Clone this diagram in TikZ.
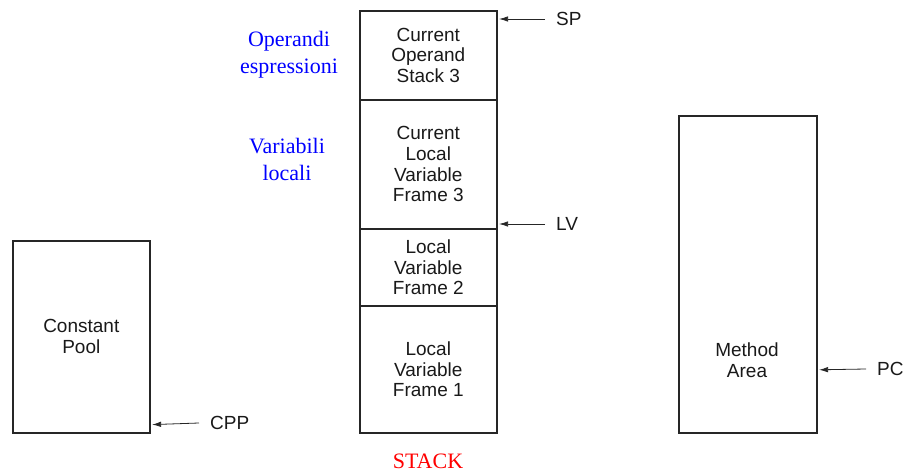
\documentclass[tikz,border=0pt]{standalone}
\usepackage{fontspec}
\setmainfont{Liberation Sans}
\newfontfamily\notefont{Liberation Serif}
\usetikzlibrary{arrows.meta}
\newcommand\boxfont{\fontsize{19}{20.7}\selectfont}
\newcommand\notesize{\notefont\fontsize{22}{27}\selectfont}
\begin{document}
\begin{tikzpicture}[x=1pt,y=-1pt,
  memblock/.style={draw=black!85, line width=1.6pt, inner sep=0pt, anchor=north west,
    align=center, font=\boxfont, text=black!90},
  ptr/.style={-{Latex[length=9pt,width=5.5pt]}, line width=0.8pt, draw=black!85},
  lbl/.style={anchor=west, inner xsep=11pt, inner ysep=0pt, font=\boxfont, text=black!90},
  note/.style={font=\notesize, text=blue, align=center, inner sep=0pt}]
\useasboundingbox (0,0) rectangle (904,473);
% stack
\node[memblock, minimum width=137pt, minimum height=89pt]  (s1) at (359,10)  {Current\\Operand\\Stack 3};
\node[memblock, minimum width=137pt, minimum height=129pt] (s2) at (359,99)  {Current\\Local\\Variable\\Frame 3};
\node[memblock, minimum width=137pt, minimum height=77pt]  (s3) at (359,228) {Local\\Variable\\Frame 2};
\node[memblock, minimum width=137pt, minimum height=127pt] (s4) at (359,305) {Local\\Variable\\Frame 1};
% constant pool
\node[memblock, minimum width=137pt, minimum height=192pt] (cp) at (12,240) {Constant\\Pool};
% method area
\node[memblock, minimum width=138pt, minimum height=317pt] (ma) at (678,115) {};
\node[align=center, font=\boxfont, text=black!90, inner sep=0pt] (mat) at (747,360) {Method\\Area};
% notes
\node[note] (op) at (289,55) {Operandi\\espressioni};
\node[note] (vl) at (287,159) {Variabili\\locali};
\node[note, text=red] (st) at (428,461) {STACK};
% pointer labels
\node[lbl] (sp)  at (545,19)  {SP};
\node[lbl] (lv)  at (545,224) {LV};
\node[lbl] (cpp) at (199,423) {CPP};
\node[lbl] (pc)  at (866,369) {PC};
\coordinate (sptip)  at ([xshift=1.5pt,yshift=-9pt]s1.north east);
\coordinate (lvtip)  at ([xshift=1.5pt,yshift=4pt]s3.north east);
\coordinate (cpptip) at ([xshift=1.5pt,yshift=9pt]cp.south east);
\coordinate (pctip)  at ([xshift=1.5pt,yshift=-95.5pt]ma.east);
\draw[ptr] (sp.west) -- (sptip);
\draw[ptr] (lv.west) -- (lvtip);
\draw[ptr] (cpp.west) -- (cpptip);
\draw[ptr] (pc.west) -- (pctip);
\end{tikzpicture}
\end{document}
